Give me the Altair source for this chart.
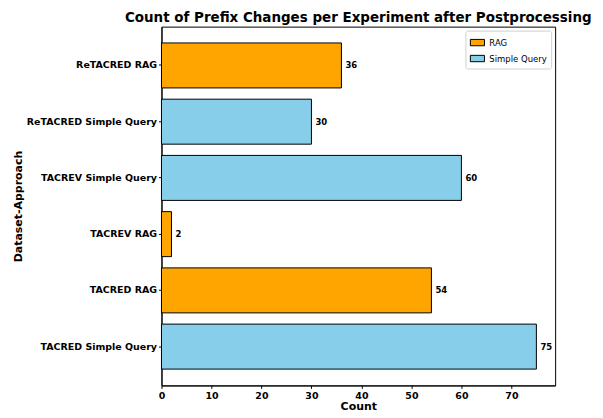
import altair as alt
import pandas as pd

categories = ["ReTACRED RAG", "ReTACRED Simple Query", "TACREV Simple Query",
              "TACREV RAG", "TACRED RAG", "TACRED Simple Query"]
approaches = ["RAG", "Simple Query", "Simple Query", "RAG", "RAG", "Simple Query"]
counts = [36, 30, 60, 2, 54, 75]

df = pd.DataFrame({"cat": categories, "approach": approaches, "count": counts})

FONT = "DejaVu Sans"

y = alt.Y("cat:N", sort=categories,
          scale=alt.Scale(paddingInner=0.2, paddingOuter=0.29),
          axis=alt.Axis(title="Dataset-Approach", labelFont=FONT, labelFontWeight="bold",
                        labelFontSize=9.5, labelColor="black", titleFont=FONT,
                        titleFontSize=11, titleFontWeight="bold", titleColor="black",
                        domainColor="black", tickColor="black", tickSize=3, labelPadding=2,
                        titlePadding=3))
x = alt.X("count:Q", scale=alt.Scale(domain=[0, 78.75], nice=False, zero=True),
          axis=alt.Axis(title="Count", values=[0, 10, 20, 30, 40, 50, 60, 70],
                        labelFont=FONT, labelFontWeight="bold", labelFontSize=9.5,
                        labelColor="black", titleFont=FONT, titleFontSize=11,
                        titleFontWeight="bold", titleColor="black", domainColor="black",
                        tickColor="black", tickSize=3, labelPadding=2, titlePadding=1,
                        grid=False, labelFlush=False))

bars = alt.Chart(df).mark_bar(stroke="black", strokeWidth=1).encode(
    y=y, x=x,
    color=alt.Color("approach:N",
                    scale=alt.Scale(domain=["RAG", "Simple Query"], range=["#FFA500", "#87CEEB"]),
                    legend=alt.Legend(title=None, orient="top-right", offset=4,
                                      labelFont=FONT, labelFontSize=8.5, labelColor="black",
                                      symbolType="M-1,-0.45L1,-0.45L1,0.45L-1,0.45Z",
                                      symbolSize=200, symbolStrokeColor="black",
                                      symbolStrokeWidth=1, symbolOpacity=1,
                                      strokeColor="#d0d0d0", cornerRadius=2,
                                      padding=4, rowPadding=2, fillColor="white")),
)

labels = alt.Chart(df).mark_text(align="left", baseline="middle", dx=4, font=FONT,
                                 fontWeight="bold", fontSize=8.5, color="black").encode(
    y=alt.Y("cat:N", sort=categories), x="count:Q", text="count:Q")

chart = (bars + labels).properties(
    width=395, height=360,
    title=alt.TitleParams("Count of Prefix Changes per Experiment after Postprocessing",
                          font=FONT, fontSize=13.5, fontWeight="bold", color="black",
                          anchor="middle", offset=2),
    autosize=alt.AutoSizeParams(type="none"),
    padding={"left": 154, "top": 18, "right": 40, "bottom": 32},
).configure_view(stroke="black", strokeWidth=1)

chart.save("out.html", embed_options={"renderer": "svg", "actions": False})
